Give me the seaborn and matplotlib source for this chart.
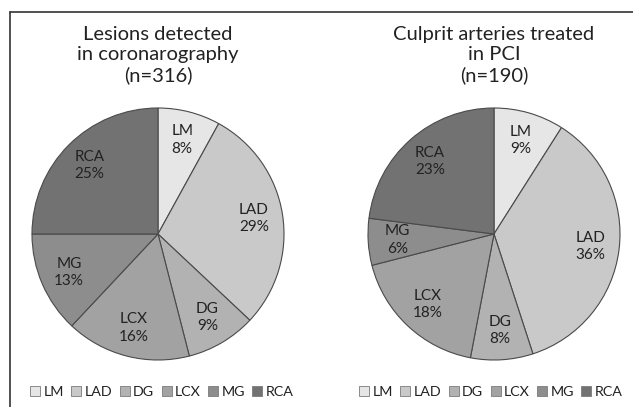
import matplotlib
matplotlib.use("Agg")
import matplotlib.pyplot as plt
from matplotlib.lines import Line2D
from matplotlib.patches import Patch
import seaborn as sns

# data
arteries = ["LM", "LAD", "DG", "LCX", "MG", "RCA"]
lesions_pct = [8, 29, 9, 16, 13, 25]
culprit_pct = [9, 36, 8, 18, 6, 23]
titles = ["Lesions detected\nin coronarography\n(n=316)",
          "Culprit arteries treated\nin PCI\n(n=190)"]

greys = ["#e6e6e6", "#c9c9c9", "#b2b2b2", "#a2a2a2", "#8d8d8d", "#727272"]

sns.set_theme(style="white")
plt.rcParams['font.family'] = ['Lato', 'DejaVu Sans']

W, H = 633, 407
fig = plt.figure(figsize=(W / 100, H / 100), dpi=100)

R = 126
centers = [(158, 234), (494, 234)]
legend_cx = [162, 491]

for i, (vals, title) in enumerate(zip([lesions_pct, culprit_pct], titles)):
    cx, cy = centers[i]
    ax = fig.add_axes([(cx - R) / W, (H - cy - R) / H, 2 * R / W, 2 * R / H])
    labels = [f"{a}\n{v}%" for a, v in zip(arteries, vals)]
    wedges, texts = ax.pie(vals, labels=labels, colors=greys, startangle=90,
                           counterclock=False, labeldistance=0.77,
                           wedgeprops=dict(edgecolor="#4a4a4a", linewidth=0.8),
                           textprops=dict(fontsize=11, color="#222222",
                                          linespacing=1.3))
    for t in texts:
        t.set_ha("center")
        t.set_va("center")
    ax.set_xlim(-1, 1)
    ax.set_ylim(-1, 1)
    ax.set_aspect("equal")
    # title above the pie
    fig.text(cx / W, (H - 55) / H, title, ha="center", va="center",
             fontsize=14.5, color="#222222", linespacing=1.2)
    handles = [Patch(facecolor=c, edgecolor="#7a7a7a", linewidth=0.6) for c in greys]
    fig.legend(handles, arteries, loc="center", ncol=6, frameon=False,
               bbox_to_anchor=(legend_cx[i] / W, 15 / H),
               handlelength=0.7, handleheight=0.7, handletextpad=0.25,
               columnspacing=0.5, fontsize=10.3, labelcolor="#222222",
               borderpad=0, borderaxespad=0)

# frame lines (top and left)
fig.add_artist(Line2D([10 / W, 1], [1 - 12 / H, 1 - 12 / H], color="#333333", lw=1.2))
fig.add_artist(Line2D([10 / W, 10 / W], [0, 1 - 12 / H], color="#333333", lw=1.2))

fig.savefig("out.png", dpi=100)
